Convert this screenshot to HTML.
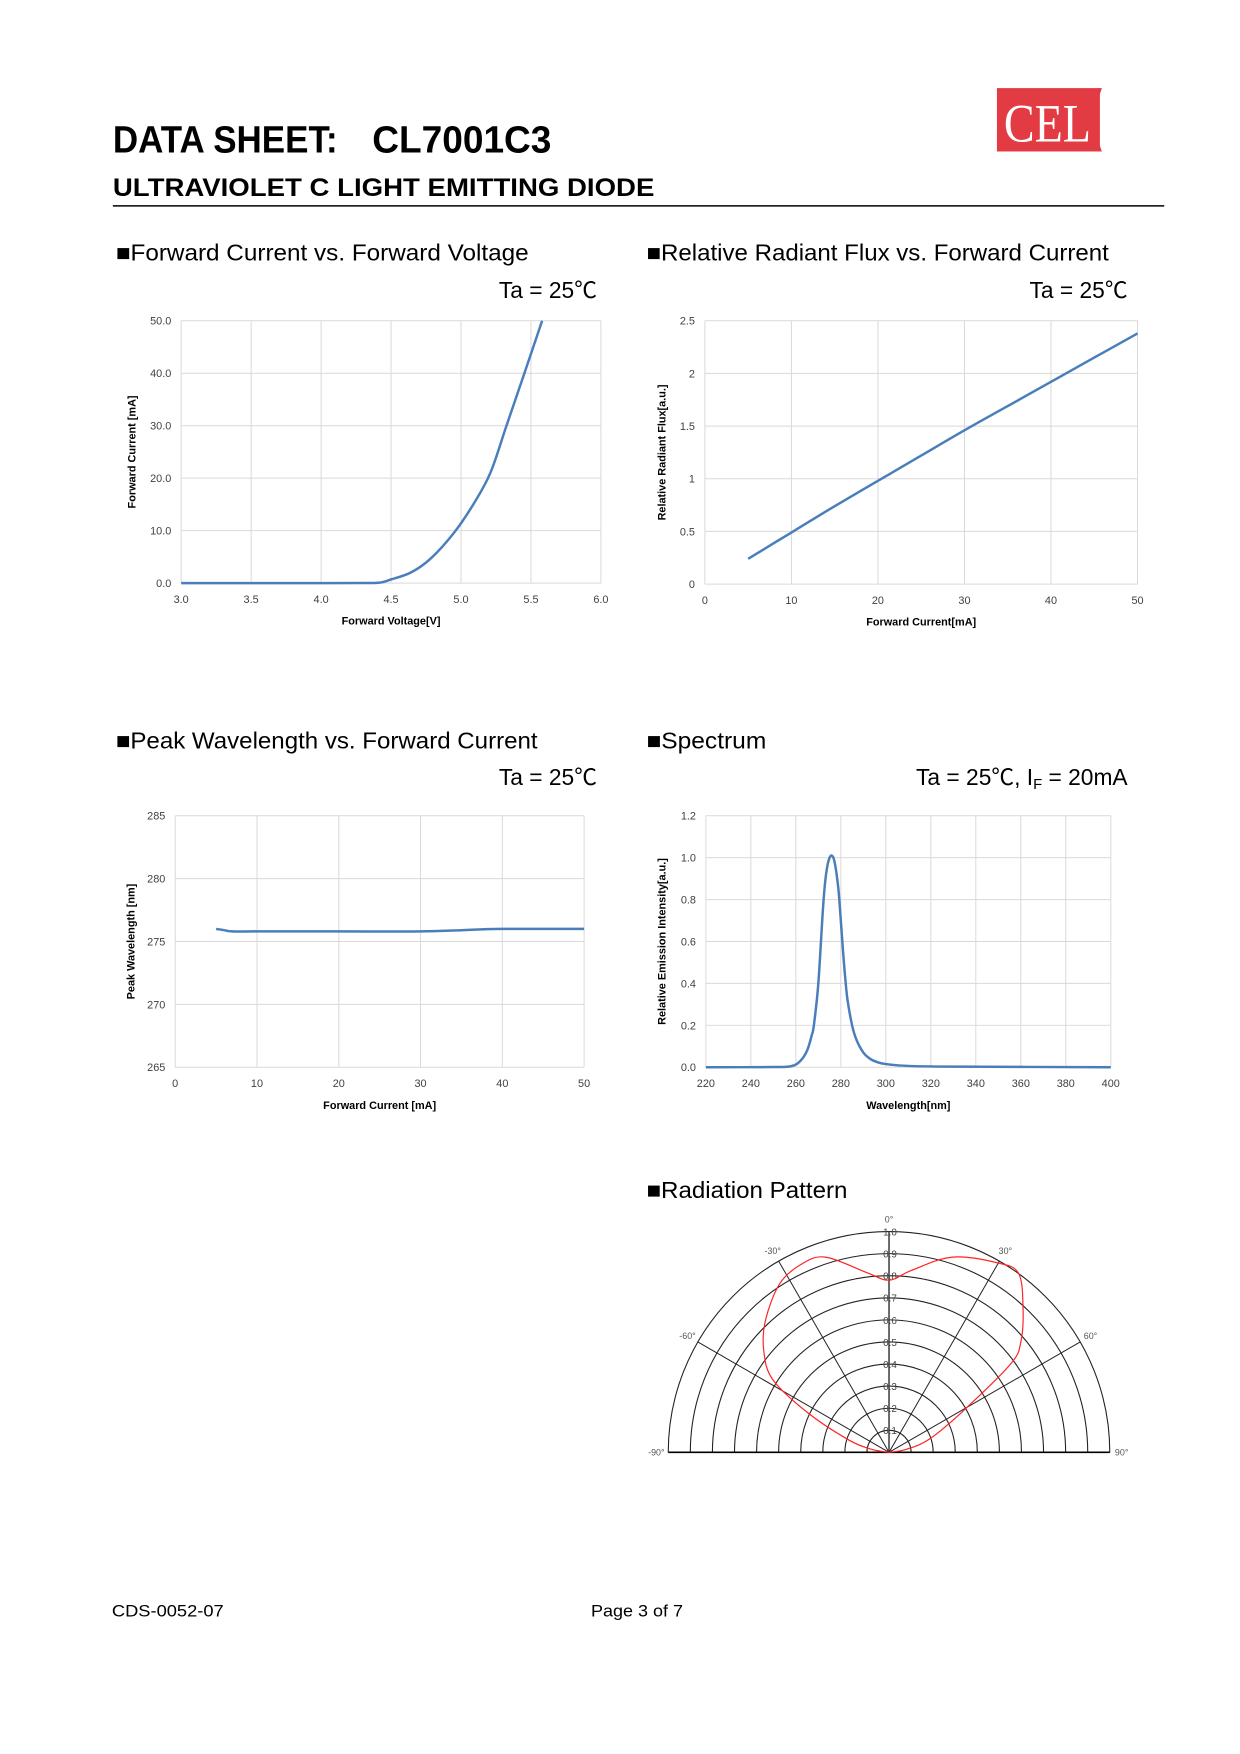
<!DOCTYPE html>
<html><head><meta charset="utf-8"><style>
body{margin:0;background:#fff;}
svg{display:block;font-family:"Liberation Sans","Noto Sans CJK JP",sans-serif;}
</style></head><body>
<svg id="page" width="1240" height="1754" viewBox="0 0 1240 1754">
<g transform="scale(0.99)">
<text x="114" y="154" font-size="38" font-weight="bold" textLength="227" lengthAdjust="spacingAndGlyphs">DATA SHEET:</text>
<text x="376" y="154" font-size="38" font-weight="bold" textLength="181" lengthAdjust="spacingAndGlyphs">CL7001C3</text>
<g>
<rect x="1007" y="89" width="104" height="64" fill="#e23b44"/>
<path d="M1109 89 q-14 32 0 64 h4 q-12 -32 0 -64z" fill="#e23b44"/>
<text x="1014" y="143" font-family="Liberation Serif,serif" font-size="54" fill="#fff" textLength="88" lengthAdjust="spacingAndGlyphs">CEL</text>
</g>
<text x="114" y="198" font-size="25" font-weight="bold" textLength="547" lengthAdjust="spacingAndGlyphs">ULTRAVIOLET C LIGHT EMITTING DIODE</text>
<line x1="114" y1="208" x2="1176" y2="208" stroke="#000" stroke-width="1.5"/>

<text x="117" y="263" font-size="23" textLength="417" lengthAdjust="spacingAndGlyphs">■Forward Current vs. Forward Voltage</text>
<text x="603" y="301" font-size="23" text-anchor="end">Ta = 25℃</text>
<text x="653" y="263" font-size="23" textLength="467" lengthAdjust="spacingAndGlyphs">■Relative Radiant Flux vs. Forward Current</text>
<text x="1139" y="301" font-size="23" text-anchor="end">Ta = 25℃</text>
<text x="117" y="756" font-size="23" textLength="426" lengthAdjust="spacingAndGlyphs">■Peak Wavelength vs. Forward Current</text>
<text x="603" y="793" font-size="23" text-anchor="end">Ta = 25℃</text>
<text x="653" y="756" font-size="23" textLength="121" lengthAdjust="spacingAndGlyphs">■Spectrum</text>
<text x="1139" y="793" font-size="23" text-anchor="end">Ta = 25℃, I<tspan font-size="15" dy="4">F</tspan><tspan dy="-4"> = 20mA</tspan></text>
<text x="653" y="1210" font-size="23" textLength="203" lengthAdjust="spacingAndGlyphs">■Radiation Pattern</text>

<text x="113" y="1633" font-size="17" textLength="113" lengthAdjust="spacingAndGlyphs">CDS-0052-07</text>
<text x="597" y="1633" font-size="17" textLength="93" lengthAdjust="spacingAndGlyphs">Page 3 of 7</text>
<g id="charts"></g>
</g>
</svg>
<script>
// Chart 1: IV
const ivVoltage=[3.0,3.5,4.0,4.3,4.42,4.5,4.64,4.78,4.95,5.09,5.21,5.32,5.44,5.58];
const ivCurrent=[0,0,0,0.02,0.1,0.7,2.0,4.6,9.6,15.1,21,29.6,39,50];
const ivXTicks=["3.0","3.5","4.0","4.5","5.0","5.5","6.0"];
const ivYTicks=["0.0","10.0","20.0","30.0","40.0","50.0"];
// Chart 2: flux
const fluxCurrent=[5,10,15,20,25,30,35,40,45,50];
const fluxValue=[0.24,0.49,0.74,0.98,1.22,1.46,1.69,1.92,2.15,2.38];
const fluxXTicks=["0","10","20","30","40","50"];
const fluxYTicks=["0","0.5","1","1.5","2","2.5"];
// Chart 3: peak wavelength
const pwCurrent=[5,6,7,10,20,30,35,40,50];
const pwValue=[276.0,275.9,275.8,275.8,275.8,275.8,275.9,276.0,276.0];
const pwXTicks=["0","10","20","30","40","50"];
const pwYTicks=["265","270","275","280","285"];
// Chart 4: spectrum
const specWl=[220,250,258,262,265,267,268,270,272,273,274,275,276,277,278,279,280,281,282,283,285,287,290,293,296,300,310,330,400];
const specI=[0,0.001,0.005,0.03,0.08,0.15,0.2,0.4,0.75,0.88,0.96,1.0,1.01,0.99,0.93,0.84,0.7,0.55,0.42,0.32,0.2,0.13,0.07,0.04,0.025,0.015,0.006,0.003,0];
const specXTicks=["220","240","260","280","300","320","340","360","380","400"];
const specYTicks=["0.0","0.2","0.4","0.6","0.8","1.0","1.2"];
// Radiation
const radAngle=[-90,-80,-73,-64,-58,-51,-43,-33,-25,-18,-7,0,7,18,30,36,43,50,54,61,72,80,90];
const radValue=[0,0.08,0.19,0.41,0.62,0.73,0.82,0.91,0.94,0.93,0.82,0.78,0.83,0.93,0.99,1.0,0.89,0.78,0.68,0.38,0.19,0.08,0];

const NS="http://www.w3.org/2000/svg";
const root=document.getElementById('charts');
function mk(tag,attrs,parent){const e=document.createElementNS(NS,tag);for(const k in attrs)e.setAttribute(k,attrs[k]);(parent||root).appendChild(e);return e;}
function smooth(pts){
  let d='M'+pts[0][0].toFixed(1)+' '+pts[0][1].toFixed(1);
  for(let i=0;i<pts.length-1;i++){
    const p0=pts[Math.max(i-1,0)],p1=pts[i],p2=pts[i+1],p3=pts[Math.min(i+2,pts.length-1)];
    const c1=[p1[0]+(p2[0]-p0[0])/6,p1[1]+(p2[1]-p0[1])/6];
    const c2=[p2[0]-(p3[0]-p1[0])/6,p2[1]-(p3[1]-p1[1])/6];
    d+=` C${c1[0].toFixed(1)} ${c1[1].toFixed(1)} ${c2[0].toFixed(1)} ${c2[1].toFixed(1)} ${p2[0].toFixed(1)} ${p2[1].toFixed(1)}`;
  }
  return d;
}

function chart(opt){
  const g=mk('g',{});
  
  
  const {x0,x1,y0,y1,xmin,xmax,ymin,ymax}=opt;
  const sx=v=>x0+(v-xmin)/(xmax-xmin)*(x1-x0);
  const sy=v=>y1-(v-ymin)/(ymax-ymin)*(y1-y0);
  opt.xTicks.forEach(t=>{const X=sx(parseFloat(t));
    const l=mk('line',{x1:X,x2:X,y1:y0,y2:y1,stroke:'#d9d9d9','stroke-width':1},g);
    
    
    const tx=mk('text',{x:X,y:y1+20,'font-size':11,'text-anchor':'middle',fill:'#404040'},g);tx.textContent=t;
    
    });
  opt.yTicks.forEach(t=>{const Y=sy(parseFloat(t));
    const l=mk('line',{x1:x0,x2:x1,y1:Y,y2:Y,stroke:'#d9d9d9','stroke-width':1},g);
    
    
    const tx=mk('text',{x:x0-10,y:Y+4,'font-size':11,'text-anchor':'end',fill:'#404040'},g);tx.textContent=t;
    
    });
  const xt=mk('text',{x:(x0+x1)/2,y:y1+42,'font-size':11,'font-weight':'bold','text-anchor':'middle'},g);xt.textContent=opt.xTitle;
  
  
  const yx=opt.yTitleX,yc=(y0+y1)/2;
  const yt=mk('text',{x:yx,y:yc,'font-size':11,'font-weight':'bold','text-anchor':'middle',transform:`rotate(-90 ${yx} ${yc})`},g);yt.textContent=opt.yTitle;
  
  
  const pts=opt.xs.map((v,i)=>[sx(v),sy(opt.ys[i])]);
  const p=mk('path',{d:smooth(pts),fill:'none',stroke:'#4a7ebb','stroke-width':2.5,'stroke-linejoin':'round'},g);
  
  
}
chart({name:'forward-current-chart',x0:183,x1:607,y0:324,y1:589,xmin:3,xmax:6,ymin:0,ymax:50,xTicks:ivXTicks,yTicks:ivYTicks,xs:ivVoltage,ys:ivCurrent,xTitle:'Forward Voltage[V]',yTitle:'Forward Current [mA]',yTitleX:137});
chart({name:'radiant-flux-chart',x0:712,x1:1149,y0:324,y1:590,xmin:0,xmax:50,ymin:0,ymax:2.5,xTicks:fluxXTicks,yTicks:fluxYTicks,xs:fluxCurrent,ys:fluxValue,xTitle:'Forward Current[mA]',yTitle:'Relative Radiant Flux[a.u.]',yTitleX:672});
chart({name:'peak-wavelength-chart',x0:177,x1:590,y0:824,y1:1078,xmin:0,xmax:50,ymin:265,ymax:285,xTicks:pwXTicks,yTicks:pwYTicks,xs:pwCurrent,ys:pwValue,xTitle:'Forward Current [mA]',yTitle:'Peak Wavelength [nm]',yTitleX:136});
chart({name:'spectrum-chart',x0:713,x1:1122,y0:824,y1:1078,xmin:220,xmax:400,ymin:0,ymax:1.2,xTicks:specXTicks,yTicks:specYTicks,xs:specWl,ys:specI,xTitle:'Wavelength[nm]',yTitle:'Relative Emission Intensity[a.u.]',yTitleX:672});

// polar
(function(){
  const g=mk('g',{});
  
  
  const cx=898,cy=1467,R=223;
  for(let i=1;i<=10;i++){const r=R*i/10;
    const a=mk('path',{d:`M${cx-r} ${cy} A${r} ${r} 0 0 1 ${cx+r} ${cy}`,fill:'none',stroke:'#222','stroke-width':1.1},g);
    
    
    const t=mk('text',{x:cx-6,y:cy-r+4,'font-size':10,fill:'#444'},g);t.textContent=(i/10).toFixed(1);
    
    }
  mk('line',{x1:cx-R,x2:cx+R,y1:cy,y2:cy,stroke:'#000','stroke-width':1.6},g);
  mk('line',{x1:cx,x2:cx,y1:cy,y2:cy-R,stroke:'#444','stroke-width':1.6},g);
  [-90,-60,-30,0,30,60,90].forEach(a=>{const rad=a*Math.PI/180;
    if(Math.abs(a)===30||Math.abs(a)===60)mk('line',{x1:cx,y1:cy,x2:cx+R*Math.sin(rad),y2:cy-R*Math.cos(rad),stroke:'#222','stroke-width':1},g);
    const lx=cx+(R+12)*Math.sin(rad),ly=cy-(R+12)*Math.cos(rad)+3;
    const t=mk('text',{x:lx,y:ly,'font-size':9,'text-anchor':'middle',fill:'#555'},g);t.textContent=a+'°';
    
    });
  const pts=radAngle.map((a,i)=>{const rad=a*Math.PI/180,r=R*radValue[i];return [cx+r*Math.sin(rad),cy-r*Math.cos(rad)];});
  const p=mk('path',{d:smooth(pts),fill:'none',stroke:'#f22','stroke-width':1.2,'stroke-linejoin':'round'},g);
  
  
})();
</script>
</body></html>
